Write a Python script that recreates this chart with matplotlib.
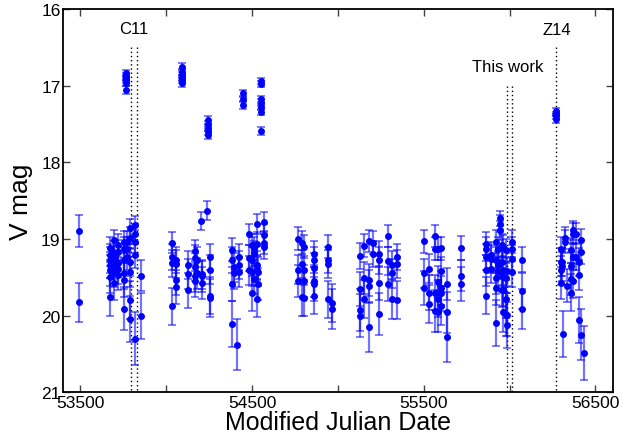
import matplotlib
matplotlib.use("Agg")
import matplotlib.pyplot as plt
import numpy as np

plt.rcParams['font.family'] = ['Liberation Sans', 'DejaVu Sans']

# ---- data: columns of observations (MJD, V magnitudes, errors) ----
col_mjd = [53494, 53673, 53696, 53719, 53752, 53770, 53790, 53816, 53851,
           54034, 54059, 54124, 54166, 54176, 54205, 54209, 54236, 54257,
           54380, 54393, 54409, 54422, 54481, 54497, 54512, 54526, 54535, 54568,
           54765, 54788, 54803, 54861, 54940, 54963,
           55128, 55151, 55180, 55205, 55240, 55293, 55312, 55345,
           55502, 55532, 55565, 55584, 55598, 55633, 55716,
           55862, 55889, 55920, 55930, 55944, 55954, 55963, 55977, 55986, 56016, 56074,
           56298, 56307, 56313, 56323, 56336, 56356, 56368, 56387, 56406, 56416, 56434]

col_mag = [[18.90, 19.83],
           [19.12, 19.21, 19.27, 19.34, 19.41, 19.50, 19.76],
           [19.02, 19.19, 19.26, 19.34, 19.43, 19.58],
           [19.08, 19.17, 19.32, 19.39, 19.47],
           [19.04, 19.13, 19.28, 19.45, 19.54, 19.91],
           [19.04, 19.13, 19.23],
           [18.86, 18.99, 19.30, 19.43, 19.80, 20.04],
           [18.82, 18.93, 19.04, 19.21, 20.30],
           [19.48, 20.00],
           [19.05, 19.24, 19.32, 19.88],
           [19.27, 19.33, 19.53, 19.63],
           [19.34, 19.46, 19.67],
           [19.16, 19.25, 19.37, 19.49, 19.55],
           [19.28, 19.45],
           [18.77],
           [19.46, 19.49, 19.58],
           [18.63],
           [19.24, 19.40, 19.74, 19.77],
           [19.14, 19.28, 19.59, 20.11],
           [19.37, 19.45],
           [20.38],
           [19.23, 19.34, 19.43],
           [18.94, 19.25, 19.41],
           [19.08, 19.27, 19.43, 19.71],
           [19.12, 19.19, 19.52],
           [18.80, 19.06, 19.34, 19.41, 19.78],
           [19.43, 19.59],
           [18.78, 18.95, 19.05, 19.10],
           [19.00, 19.40, 19.55],
           [19.05, 19.33, 19.76],
           [19.10, 19.41, 19.55, 19.77],
           [19.20, 19.28, 19.38, 19.55, 19.59, 19.74],
           [19.10, 19.28, 19.33, 19.79],
           [19.84, 19.92],
           [19.22, 19.65, 19.93, 20.00],
           [19.09, 19.51, 19.78],
           [19.03, 19.54, 19.62, 20.15],
           [19.05, 19.20],
           [19.20, 19.28, 19.58, 19.98],
           [18.96, 19.29, 19.59],
           [19.34, 19.45, 19.79],
           [19.23, 19.33, 19.80],
           [19.03, 19.45, 19.64],
           [19.39, 19.70, 19.85],
           [18.96, 19.13, 19.70, 19.94],
           [19.13, 19.56, 19.78, 19.95],
           [19.12, 19.42, 19.64, 19.71, 19.87],
           [19.59, 19.96, 20.28],
           [19.12, 19.48, 19.59],
           [19.06, 19.13, 19.23, 19.41, 19.74],
           [19.21, 19.26, 19.39],
           [19.04, 19.27, 19.51, 19.64, 20.10],
           [19.13, 19.34, 19.42],
           [18.73, 18.80, 18.89],
           [19.08, 19.30, 19.49, 19.67],
           [19.10, 19.41, 19.65, 19.95],
           [19.15, 19.51, 19.78, 19.99],
           [19.42, 19.99, 20.12],
           [19.04, 19.13, 19.26, 19.43],
           [19.27, 19.68, 19.91],
           [19.13, 19.30, 19.41, 19.58],
           [19.30, 19.36],
           [20.24],
           [18.99, 19.04],
           [19.61],
           [19.15, 19.36, 19.52, 19.70],
           [18.89, 18.93, 19.23, 19.55],
           [18.93, 19.23],
           [19.30, 19.47, 20.06],
           [19.02, 19.17, 20.25],
           [20.49]]

col_err = [[0.21, 0.26],
           [0.15, 0.15, 0.17, 0.17, 0.20, 0.20, 0.25],
           [0.14, 0.16, 0.17, 0.18, 0.20, 0.22],
           [0.15, 0.16, 0.18, 0.20, 0.20],
           [0.14, 0.15, 0.18, 0.20, 0.22, 0.28],
           [0.14, 0.15, 0.17],
           [0.12, 0.14, 0.18, 0.20, 0.25, 0.30],
           [0.12, 0.13, 0.15, 0.17, 0.35],
           [0.20, 0.30],
           [0.14, 0.17, 0.18, 0.24],
           [0.17, 0.18, 0.20, 0.22],
           [0.18, 0.20, 0.23],
           [0.15, 0.17, 0.18, 0.20, 0.21],
           [0.17, 0.20],
           [0.12],
           [0.19, 0.20, 0.21],
           [0.12],
           [0.17, 0.19, 0.24, 0.25],
           [0.15, 0.17, 0.22, 0.30],
           [0.19, 0.20],
           [0.33],
           [0.17, 0.18, 0.20],
           [0.14, 0.17, 0.19],
           [0.15, 0.17, 0.19, 0.23],
           [0.15, 0.16, 0.20],
           [0.13, 0.15, 0.18, 0.19, 0.24],
           [0.19, 0.21],
           [0.13, 0.14, 0.15, 0.16],
           [0.15, 0.19, 0.21],
           [0.15, 0.18, 0.24],
           [0.15, 0.19, 0.21, 0.24],
           [0.17, 0.17, 0.19, 0.21, 0.22, 0.24],
           [0.15, 0.17, 0.18, 0.24],
           [0.25, 0.26],
           [0.17, 0.22, 0.27, 0.28],
           [0.15, 0.21, 0.25],
           [0.14, 0.21, 0.22, 0.32],
           [0.15, 0.17],
           [0.17, 0.18, 0.22, 0.28],
           [0.14, 0.18, 0.22],
           [0.18, 0.19, 0.25],
           [0.17, 0.18, 0.25],
           [0.15, 0.19, 0.22],
           [0.19, 0.23, 0.25],
           [0.14, 0.15, 0.23, 0.27],
           [0.15, 0.21, 0.24, 0.27],
           [0.15, 0.19, 0.22, 0.23, 0.26],
           [0.21, 0.27, 0.33],
           [0.16, 0.20, 0.22],
           [0.15, 0.16, 0.17, 0.20, 0.24],
           [0.17, 0.18, 0.19],
           [0.15, 0.17, 0.21, 0.22, 0.30],
           [0.15, 0.18, 0.19],
           [0.10, 0.11, 0.12],
           [0.15, 0.18, 0.20, 0.22],
           [0.15, 0.19, 0.22, 0.27],
           [0.15, 0.20, 0.25, 0.28],
           [0.19, 0.28, 0.30],
           [0.15, 0.16, 0.18, 0.20],
           [0.16, 0.23, 0.26],
           [0.16, 0.18, 0.19, 0.21],
           [0.18, 0.19],
           [0.30],
           [0.14, 0.15],
           [0.22],
           [0.16, 0.19, 0.21, 0.24],
           [0.13, 0.14, 0.18, 0.22],
           [0.14, 0.18],
           [0.18, 0.20, 0.30],
           [0.15, 0.16, 0.33],
           [0.35]]

# bright state clusters
bright_mjd = [53767, 54094, 54244, 54448, 54551, 56270]
bright_mag = [[16.83, 16.87, 16.90, 16.93, 16.96, 17.06],
              [16.75, 16.82, 16.86, 16.90, 16.93, 16.97],
              [17.45, 17.50, 17.55, 17.60, 17.64],
              [17.10, 17.17, 17.25],
              [16.94, 16.98, 17.17, 17.22, 17.28, 17.34, 17.59],
              [17.33, 17.37, 17.40, 17.44]]
bright_err = [[0.04, 0.04, 0.04, 0.04, 0.04, 0.05],
              [0.05, 0.04, 0.04, 0.04, 0.04, 0.05],
              [0.05, 0.04, 0.04, 0.04, 0.05],
              [0.05, 0.04, 0.05],
              [0.04, 0.04, 0.04, 0.04, 0.04, 0.04, 0.05],
              [0.04, 0.03, 0.03, 0.05]]

# reference epochs (dotted lines) and labels
c11_lines = [53794, 53829]
thiswork_lines = [55983, 56012]
z14_lines = [56272]
xtick_vals = [53500, 54000, 54500, 55000, 55500, 56000, 56500]
xtick_labels = ['53500', '', '54500', '', '55500', '', '56500']
ytick_vals = [16, 17, 18, 19, 20, 21]

# ---- build flat arrays ----
x, y, e = [], [], []
for m, mags, errs in zip(col_mjd + bright_mjd, col_mag + bright_mag, col_err + bright_err):
    for v, s in zip(mags, errs):
        x.append(m); y.append(v); e.append(s)

fig = plt.figure(figsize=(6.23, 4.39), dpi=100)
ax = fig.add_axes([0.1016, 0.1045, 0.8818, 0.8725])

ax.errorbar(x, y, yerr=e, fmt='none', ecolor=(0, 0, 1, 0.55), elinewidth=1.6,
            capsize=3, capthick=1.3, zorder=2)
ax.plot(x, y, 'o', color=(0, 0, 1), ms=5.0, mec='none', zorder=3)

for xv in c11_lines:
    ax.plot([xv, xv], [16.5, 21], ls=(0, (1, 2)), color='black', lw=1.0, zorder=1)
for xv in thiswork_lines:
    ax.plot([xv, xv], [17.0, 21], ls=(0, (1, 2)), color='black', lw=1.0, zorder=1)
for xv in z14_lines:
    ax.plot([xv, xv], [16.5, 21], ls=(0, (1, 2)), color='black', lw=1.0, zorder=1)

ax.text(53811, 16.25, 'C11', ha='center', va='center', fontsize=12)
ax.text(55991, 16.75, 'This work', ha='center', va='center', fontsize=12)
ax.text(56272, 16.27, 'Z14', ha='center', va='center', fontsize=12)

ax.set_xlim(53400, 56600)
ax.set_ylim(21, 16)
ax.set_xticks(xtick_vals)
ax.set_xticklabels(xtick_labels)
ax.set_yticks(ytick_vals)
ax.tick_params(direction='in', length=5, width=1, top=True, right=True,
               labelsize=12.5, color='#444444', pad=2)
for sp in ax.spines.values():
    sp.set_linewidth(1.3)

ax.set_xlabel('Modified Julian Date', fontsize=18, labelpad=0)
ax.set_ylabel('V mag', fontsize=19, labelpad=6)

fig.savefig('out.png', dpi=100)
